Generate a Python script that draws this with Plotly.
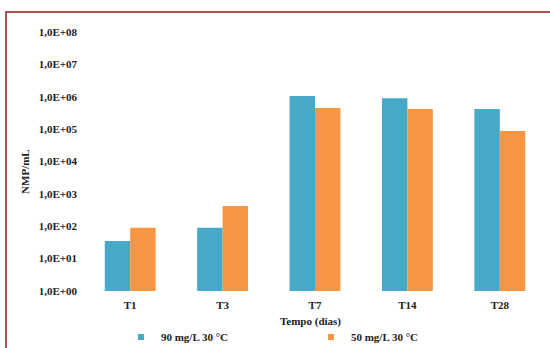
import plotly.graph_objects as go

# Sampling days and most probable number counts per mL
categories = ["T1", "T3", "T7", "T14", "T28"]
nmp_90 = [35, 90, 1.05e6, 9.0e5, 4.2e5]
nmp_50 = [90, 420, 4.5e5, 4.2e5, 8.7e4]
series_names = ["90 mg/L 30 °C", "50 mg/L 30 °C"]
series_colors = ["#46a9c8", "#f89542"]

tick_vals = [10 ** k for k in range(0, 9)]
tick_text = ["1,0E+0%d" % k for k in range(0, 9)]

font_family = "Liberation Serif"
text_color = "#222222"

fig = go.Figure()
for vals, name, color in zip([nmp_90, nmp_50], series_names, series_colors):
    fig.add_trace(go.Bar(x=categories, y=vals, name=name, showlegend=False,
                         marker=dict(color=color, line=dict(width=0))))
# small square swatches for the legend
for name, color in zip(series_names, series_colors):
    fig.add_trace(go.Scatter(x=[None], y=[None], mode="markers", name=name,
                             marker=dict(symbol="square", size=6, color=color)))

fig.update_layout(
    width=550, height=348,
    margin=dict(l=84, r=4, t=32, b=57, autoexpand=False),
    paper_bgcolor="white", plot_bgcolor="white",
    barmode="group", bargap=0.45, bargroupgap=0,
    font=dict(family=font_family, size=11, color=text_color),
    showlegend=True,
    legend=dict(orientation="h", x=0.08, xanchor="left",
                y=-0.178, yanchor="middle",
                entrywidth=145, entrywidthmode="pixels",
                font=dict(family=font_family, size=11, color=text_color, weight="bold"),
                itemwidth=30, bgcolor="rgba(0,0,0,0)"),
    xaxis=dict(range=[-0.5, 4.5], showline=False, showgrid=False, ticks="",
               ticklabelstandoff=6,
               tickfont=dict(family=font_family, size=11, color=text_color, weight="bold")),
    yaxis=dict(type="log", range=[0, 8], tickvals=tick_vals, ticktext=tick_text,
               showline=False, showgrid=False, zeroline=False, ticks="",
               ticklabelstandoff=6,
               tickfont=dict(family=font_family, size=11, color=text_color, weight="bold")),
    annotations=[
        dict(text="NMP/mL", xref="paper", yref="paper", x=-0.128, y=0.463,
             textangle=-90, showarrow=False, xanchor="center", yanchor="middle",
             font=dict(family=font_family, size=11, color=text_color, weight="bold")),
        dict(text="Tempo (dias)", xref="paper", yref="paper", x=0.491, y=-0.116,
             showarrow=False, xanchor="center", yanchor="middle",
             font=dict(family=font_family, size=11, color=text_color, weight="bold")),
    ],
    shapes=[
        dict(type="rect", xref="paper", yref="paper",
             x0=-0.1688, x1=1.2, y0=-0.5, y1=1.077,
             line=dict(color="#8b1a1a", width=1.5), fillcolor="rgba(0,0,0,0)",
             layer="below"),
    ],
)

fig.write_html("out.html")
